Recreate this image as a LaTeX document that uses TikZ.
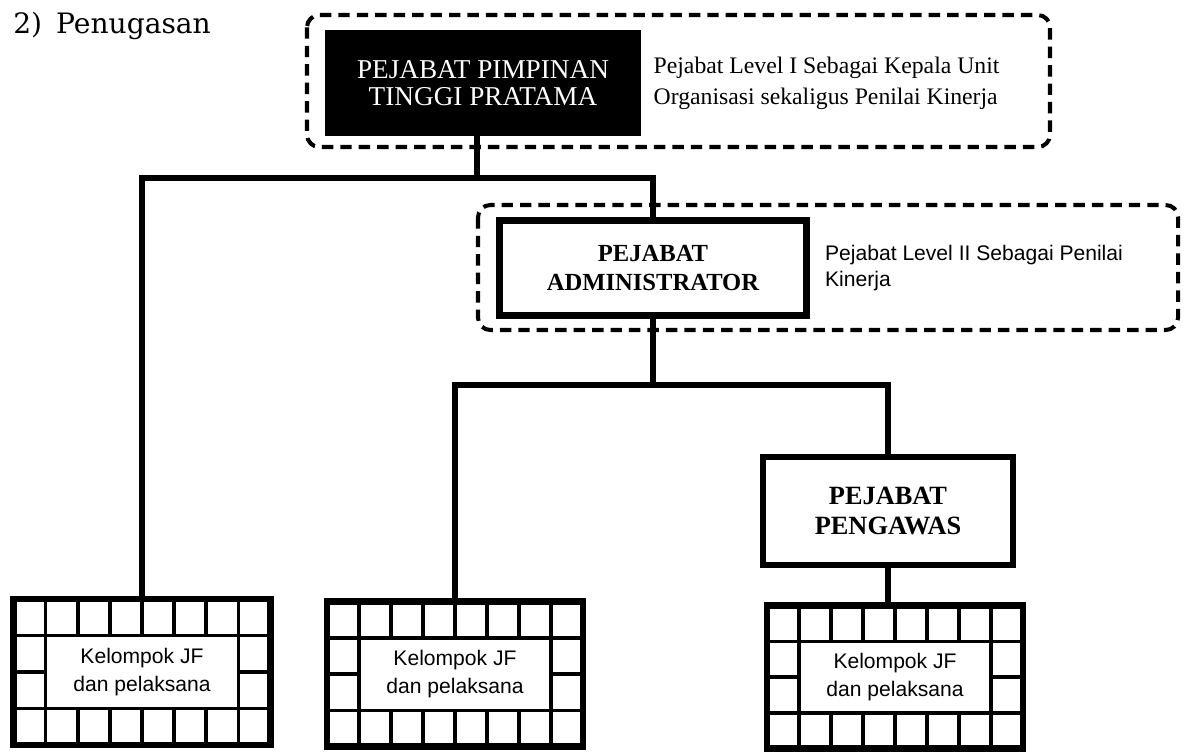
\documentclass[tikz,border=0pt]{standalone}
\usepackage{fontspec}
\setmainfont{Liberation Serif}
\setsansfont{Liberation Sans}
\newfontfamily\judulfont{DejaVu Serif}
\usetikzlibrary{positioning, calc}

\begin{document}
\begin{tikzpicture}[x=0.02cm, y=0.02cm,
        garis/.style={line width=3pt},
        bingkai/.style={dash pattern=on 6.5pt off 4pt, line width=2.3pt, rounded corners=7pt},
        jabatan/.style={draw, line width=3.8pt, align=center, font=\bfseries\fontsize{14}{17}\selectfont},
        ket/.style={inner sep=0pt, align=left},
        sel/.style={line width=2pt},
        kotakjf/.style={draw, line width=3.6pt, minimum width=5.14cm, minimum height=2.92cm, align=center,
          font=\sffamily\fontsize{12}{15.5}\selectfont,
          path picture={
            \coordinate (nw) at (path picture bounding box.north west);
            \coordinate (ne) at (path picture bounding box.north east);
            \coordinate (sw) at (path picture bounding box.south west);
            \coordinate (se) at (path picture bounding box.south east);
            \foreach \i in {1,...,7} \draw[sel] ($(nw)!\i/8!(ne)$) -- ($(sw)!\i/8!(se)$);
            \foreach \j in {1,2,3} \draw[sel] ($(nw)!\j/4!(sw)$) -- ($(ne)!\j/4!(se)$);
            \coordinate (ka) at ($(nw)!.125!(ne)$);
            \coordinate (kb) at ($(nw)!.25!(sw)$);
            \coordinate (kc) at ($(nw)!.875!(ne)$);
            \coordinate (kd) at ($(nw)!.75!(sw)$);
            \draw[sel, fill=white] (ka |- kb) rectangle (kc |- kd);
          }}]
        \useasboundingbox (0,0) rectangle (1185,-752);
        \node[anchor=base west, inner sep=0pt, font=\judulfont\fontsize{16}{18}\selectfont] (judul) at (13,-33) {2)\enspace Penugasan};
        \draw[bingkai] (307,-15) rectangle (1050,-147);
        \draw[bingkai] (478,-205) rectangle (1178,-330);
        \node[jabatan, fill=black, text=white, font=\fontsize{15.5}{15}\selectfont, minimum width=6.2cm, minimum height=2cm] (ptp) at (483,-83) {PEJABAT PIMPINAN\\TINGGI PRATAMA};
        \node[ket, right=0.24cm of ptp, font=\fontsize{13.5}{17.5}\selectfont] (ketptp) {Pejabat Level I Sebagai Kepala Unit\\Organisasi sekaligus Penilai Kinerja};
        \node[jabatan, minimum width=6.14cm, minimum height=1.9cm] (adm) at (653,-268) {PEJABAT\\ADMINISTRATOR};
        \node[ket, right=0.3cm of adm, font=\sffamily\fontsize{12}{15}\selectfont] (ketadm) {Pejabat Level II Sebagai Penilai\\Kinerja};
        \node[jabatan, minimum width=5cm, minimum height=2.16cm, font=\bfseries\fontsize{15}{17}\selectfont] (pengawas) at (888,-511) {PEJABAT\\PENGAWAS};
        \node[kotakjf] (jf1) at (142,-672) {Kelompok JF\\dan pelaksana};
        \node[kotakjf, minimum width=5.12cm, minimum height=2.9cm] (jf2) at (455,-674) {Kelompok JF\\dan pelaksana};
        \node[kotakjf, minimum width=5.12cm, minimum height=2.86cm] (jf3) at (895,-677) {Kelompok JF\\dan pelaksana};
        \coordinate (j1) at (477,-178);
        \coordinate (j2) at (adm.south |- 0,-385);
        \draw[garis] (j1 |- ptp.south) -- (j1);
        \draw[garis] (jf1.north) |- (j1) -| (adm.north);
        \draw[garis] (adm.south) -- (j2);
        \draw[garis] (jf2.north) |- (j2) -| (pengawas.north);
        \draw[garis] (pengawas.south) -- (pengawas.south |- jf3.north);
\end{tikzpicture}
\end{document}
